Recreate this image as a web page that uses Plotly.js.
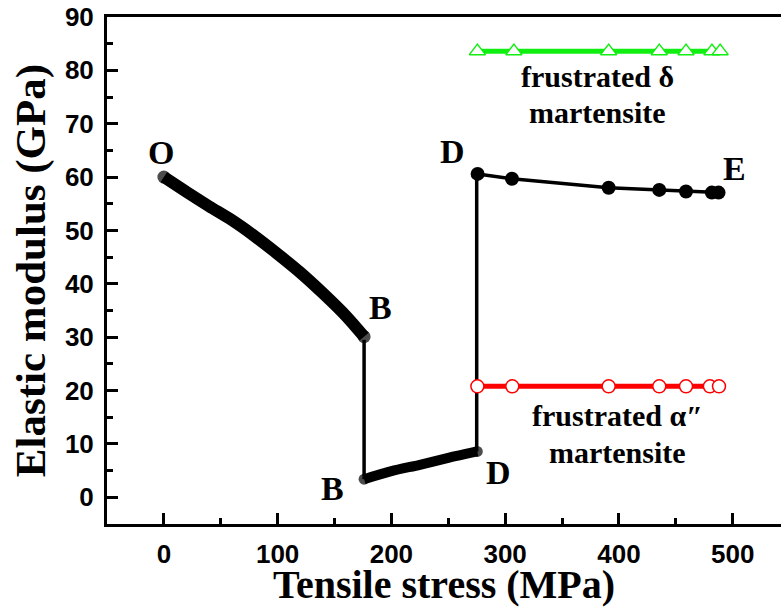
<!DOCTYPE html>
<html>
<head>
<meta charset="utf-8">
<script src="https://cdn.plot.ly/plotly-3.0.1.min.js"></script>
<style>html,body{margin:0;padding:0;background:#fff}#chart{width:781px;height:607px}</style>
</head>
<body>
<div id="chart"></div>
<script>
// O -> B (austenite softening)
const obStress = [0, 20, 40, 60, 80, 100, 120, 140, 160, 176];
const obModulus = [60, 57.2, 54.5, 51.9, 48.9, 45.6, 42.1, 38.2, 34.0, 30.1];
// B -> D (lower branch)
const bdStress = [176, 200, 225, 250, 275.5];
const bdModulus = [3.4, 4.9, 6.1, 7.4, 8.6];
// vertical jumps
const jump1Stress = [176, 176];
const jump1Modulus = [29.5, 3.4];
const jump2Stress = [275, 275];
const jump2Modulus = [8.6, 60.6];
// D -> E
const deStress = [275.8, 306, 391, 435.5, 459, 481.7, 487.6];
const deModulus = [60.6, 59.7, 58.0, 57.6, 57.3, 57.1, 57.1];
// frustrated delta martensite
const deltaStress = [275.6, 307.7, 391, 435.5, 459, 481.8, 489];
const deltaModulus = [83.6, 83.6, 83.6, 83.6, 83.6, 83.6, 83.6];
// frustrated alpha'' martensite
const alphaStress = [275.6, 306.3, 391, 435.5, 459, 480, 488];
const alphaModulus = [20.8, 20.8, 20.8, 20.8, 20.8, 20.8, 20.8];

const xTicks = [0, 100, 200, 300, 400, 500];
const yTicks = [0, 10, 20, 30, 40, 50, 60, 70, 80, 90];

const serif = 'Liberation Serif, Times New Roman, serif';
const sans = 'Liberation Sans, Arial, sans-serif';

function endSizes(n, s) { return Array.from({length: n}, (_, i) => (i === 0 || i === n - 1) ? s : 0); }

const traces = [
  {x: obStress, y: obModulus, mode: 'lines+markers', line: {color: '#000', width: 12, shape: 'spline', smoothing: 0.8},
   marker: {color: '#000', size: endSizes(obStress.length, 13), line: {width: 0}}},
  {x: jump1Stress, y: jump1Modulus, mode: 'lines', line: {color: '#000', width: 3.5}},
  {x: bdStress, y: bdModulus, mode: 'lines+markers', line: {color: '#000', width: 10, shape: 'spline', smoothing: 0.8},
   marker: {color: '#000', size: endSizes(bdStress.length, 11), line: {width: 0}}},
  {x: jump2Stress, y: jump2Modulus, mode: 'lines', line: {color: '#000', width: 3.5}},
  {x: deStress, y: deModulus, mode: 'lines+markers', line: {color: '#000', width: 3.5},
   marker: {color: '#000', size: 14, line: {width: 0}}},
  {x: deltaStress, y: deltaModulus, mode: 'lines+markers', line: {color: '#11ee11', width: 5},
   marker: {symbol: 'triangle-up', size: 14, color: '#fff', line: {color: '#11ee11', width: 1.5}}},
  {x: alphaStress, y: alphaModulus, mode: 'lines+markers', line: {color: '#ff0000', width: 5},
   marker: {symbol: 'circle', size: 13, color: '#fff', line: {color: '#ff0000', width: 1.5}}}
];

function lab(text, x, y, size) {
  return {text: text, x: x, y: y, xref: 'x', yref: 'y', showarrow: false,
          xanchor: 'center', yanchor: 'middle',
          font: {family: serif, size: size, color: '#000', weight: 'bold'}};
}

const layout = {
  width: 781, height: 607,
  margin: {l: 107, r: 0, t: 17, b: 83, pad: 0},
  paper_bgcolor: '#fff', plot_bgcolor: '#fff',
  showlegend: false,
  xaxis: {
    range: [-50, 542.5], tickvals: xTicks, ticktext: xTicks.map(String),
    ticks: 'inside', ticklen: 11, tickwidth: 3, tickcolor: '#000',
    minor: {dtick: 50, tick0: 0, ticks: 'inside', ticklen: 6, tickwidth: 3, tickcolor: '#000'},
    showline: true, linewidth: 3, linecolor: '#000', mirror: true,
    showgrid: false, zeroline: false, ticklabelstandoff: 5,
    tickfont: {family: sans, size: 26, color: '#000', weight: 'bold'},
    title: {text: 'Tensile stress (MPa)', standoff: 7, font: {family: serif, size: 40, color: '#000', weight: 'bold'}}
  },
  yaxis: {
    range: [-5, 90], tickvals: yTicks, ticktext: yTicks.map(String),
    ticks: 'inside', ticklen: 11, tickwidth: 3, tickcolor: '#000',
    minor: {dtick: 5, tick0: 0, ticks: 'inside', ticklen: 6, tickwidth: 3, tickcolor: '#000'},
    showline: true, linewidth: 3, linecolor: '#000', mirror: false,
    showgrid: false, zeroline: false, ticklabelstandoff: 5,
    tickfont: {family: sans, size: 26, color: '#000', weight: 'bold'},
    title: {text: 'Elastic modulus (GPa)', standoff: 6, font: {family: serif, size: 43, color: '#000', weight: 'bold'}}
  },
  annotations: [
    lab('O', -2.4, 64.7, 34),
    lab('B', 190.6, 35.5, 34),
    lab('B', 148.5, 1.6, 34),
    lab('D', 294, 4.6, 34),
    lab('D', 253.5, 64.8, 34),
    lab('E', 502, 61.7, 34),
    lab('frustrated δ', 381.4, 78.8, 30),
    lab('martensite', 381.4, 72.2, 30),
    lab('frustrated α″', 398.5, 15.3, 30),
    lab('martensite', 398.5, 8.4, 30)
  ]
};

Plotly.newPlot('chart', traces, layout, {displayModeBar: false, staticPlot: true});
</script>
</body>
</html>
